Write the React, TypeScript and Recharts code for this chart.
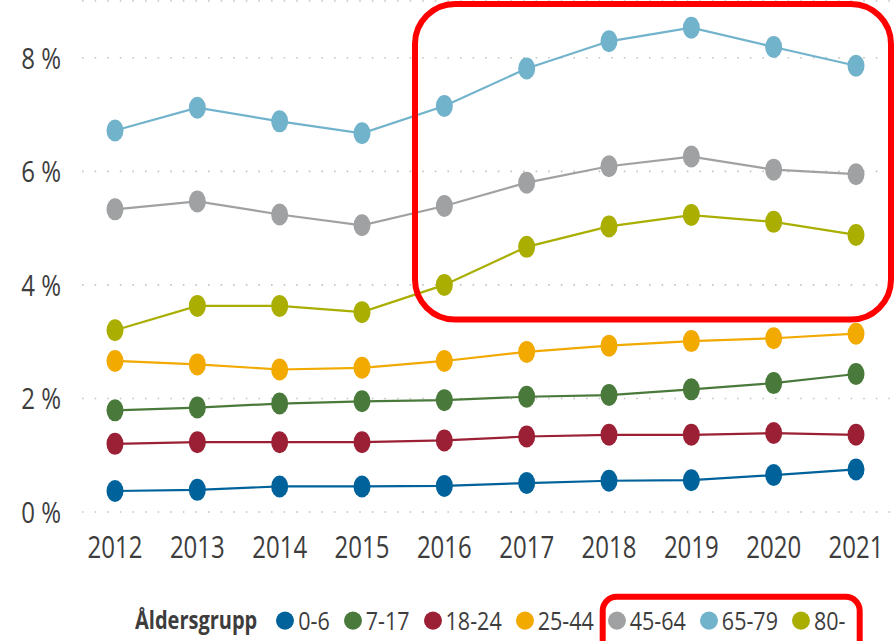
import { LineChart, Line, XAxis, YAxis, CartesianGrid } from "recharts"

const years = ["2012", "2013", "2014", "2015", "2016", "2017", "2018", "2019", "2020", "2021"]

const age0to6 = [0.37, 0.39, 0.45, 0.45, 0.46, 0.51, 0.55, 0.56, 0.65, 0.75]
const age7to17 = [1.79, 1.84, 1.91, 1.95, 1.97, 2.03, 2.06, 2.16, 2.27, 2.43]
const age18to24 = [1.2, 1.23, 1.23, 1.23, 1.26, 1.33, 1.36, 1.36, 1.39, 1.36]
const age25to44 = [2.66, 2.6, 2.51, 2.54, 2.66, 2.82, 2.93, 3.01, 3.06, 3.14]
const age45to64 = [5.33, 5.47, 5.24, 5.05, 5.39, 5.8, 6.09, 6.26, 6.03, 5.95]
const age65to79 = [6.72, 7.12, 6.88, 6.67, 7.15, 7.81, 8.29, 8.53, 8.19, 7.86]
const age80plus = [3.2, 3.63, 3.63, 3.52, 4.0, 4.67, 5.03, 5.23, 5.11, 4.88]

const yTicks = [0, 2, 4, 6, 8]

const series = [
  { key: "a0", name: "0-6", values: age0to6, color: "#00629b" },
  { key: "a7", name: "7-17", values: age7to17, color: "#4a7a3b" },
  { key: "a18", name: "18-24", values: age18to24, color: "#9b2035" },
  { key: "a25", name: "25-44", values: age25to44, color: "#f2a900" },
  { key: "a45", name: "45-64", values: age45to64, color: "#9fa1a3" },
  { key: "a65", name: "65-79", values: age65to79, color: "#72b3cc" },
  { key: "a80", name: "80-", values: age80plus, color: "#a9ae00" },
]

const data = years.map((year, i) => {
  const row: Record<string, any> = { year }
  series.forEach(s => { row[s.key] = s.values[i] })
  return row
})

const FONT = "'Open Sans', 'Noto Sans', sans-serif"
const TEXT = "#3d3d3d"

const YTick = ({ x, y, payload }: any) => (
  <g transform={`translate(${x},${y}) scale(1,1.25)`}>
    <text x={0} y={0} dy="0.36em" textAnchor="end" fill={TEXT} fontSize={24} fontFamily={FONT}>
      {payload.value} %
    </text>
  </g>
)

const XTick = ({ x, y, payload }: any) => (
  <g transform={`translate(${x},${y}) scale(1,1.3)`}>
    <text x={0} y={0} dy="0.36em" textAnchor="middle" fill={TEXT} fontSize={24} fontFamily={FONT}>
      {payload.value}
    </text>
  </g>
)

const makeDot = (color: string) => (props: any) => {
  const { cx, cy, index } = props
  if (cx == null || cy == null) return <g key={index} />
  return <ellipse key={index} cx={cx} cy={cy} rx={8.5} ry={11} fill={color} />
}

export default function App() {
  return (
    <div style={{ position: "absolute", left: 0, top: 0, width: 895, height: 641, background: "#fff", overflow: "hidden" }}>
      <LineChart width={895} height={641} data={data} margin={{ top: 1, right: 2, left: 0, bottom: 0 }}>
        <CartesianGrid vertical={false} stroke="#c4c4c4" strokeWidth={1.6} strokeDasharray="1.6 11" />
        <XAxis
          dataKey="year"
          scale="point"
          padding={{ left: 33, right: 37 }}
          axisLine={false}
          tickLine={false}
          tickSize={0}
          tickMargin={35}
          height={129}
          tick={<XTick />}
          interval={0}
        />
        <YAxis
          domain={[0, 9]}
          ticks={yTicks}
          axisLine={false}
          tickLine={false}
          tickSize={0}
          tickMargin={21}
          width={82}
          tick={<YTick />}
        />
        {series.map(s => (
          <Line
            key={s.key}
            type="linear"
            dataKey={s.key}
            name={s.name}
            stroke={s.color}
            strokeWidth={2.2}
            dot={makeDot(s.color)}
            activeDot={false}
            isAnimationActive={false}
          />
        ))}
      </LineChart>

      {/* legend */}
      <div
        style={{
          position: "absolute",
          left: 135,
          top: 605,
          display: "flex",
          alignItems: "center",
          fontFamily: FONT,
          color: TEXT,
          transform: "scaleY(1.22)",
          lineHeight: "30px",
        }}
      >
        <span style={{ fontWeight: 700, fontSize: 20, marginRight: 19 }}>Åldersgrupp</span>
        {series.map(s => (
          <span key={s.key} style={{ display: "flex", alignItems: "center", marginRight: 14 }}>
            <span style={{ width: 18, height: 15, borderRadius: "50%", background: s.color, marginRight: 4 }} />
            <span style={{ fontSize: 21.5 }}>{s.name}</span>
          </span>
        ))}
      </div>

      {/* red highlight frames */}
      <svg width={895} height={641} style={{ position: "absolute", left: 0, top: 0, pointerEvents: "none" }}>
        <rect x={415} y={4} width={476} height={315.5} rx={40} ry={40} fill="none" stroke="#ff0000" strokeWidth={6} />
        <rect x={602.7} y={596.7} width={257} height={80} rx={14} ry={14} fill="none" stroke="#ff0000" strokeWidth={6} />
      </svg>
    </div>
  )
}
